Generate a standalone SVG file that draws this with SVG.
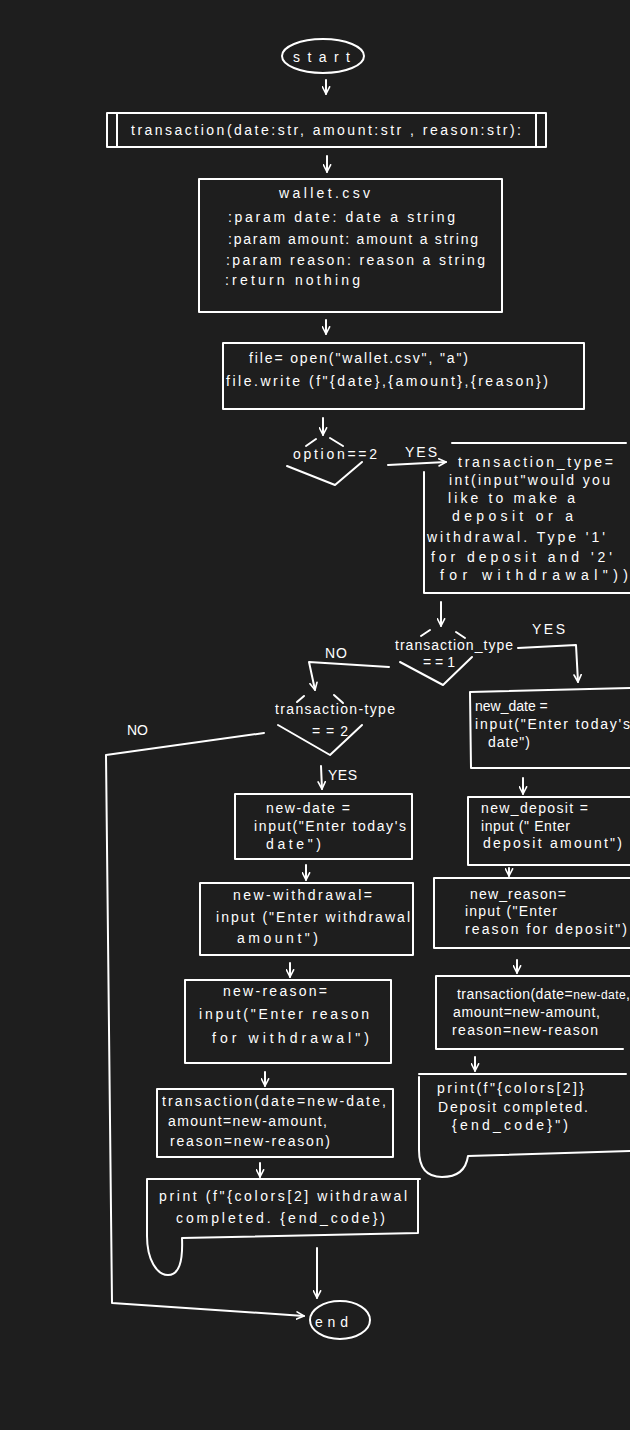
<svg xmlns="http://www.w3.org/2000/svg" width="630" height="1430" viewBox="0 0 630 1430">
<defs>
<marker id="ah" viewBox="0 0 10 10" refX="9" refY="5" markerWidth="9" markerHeight="9" markerUnits="userSpaceOnUse" orient="auto">
<path d="M1,1 L9,5 L1,9" fill="none" stroke="#ffffff" stroke-width="1.8" stroke-linecap="round" stroke-linejoin="round"/>
</marker>
<style>
.s{fill:none;stroke:#ffffff;stroke-width:2;stroke-linecap:round;stroke-linejoin:round}
.c{fill:none;stroke:#ffffff;stroke-width:2;stroke-linecap:round;stroke-linejoin:round;marker-end:url(#ah)}
text{fill:#ffffff;font-family:"Liberation Sans","DejaVu Sans",sans-serif;font-size:14px}
.sm{font-size:12px}
</style>
</defs>
<rect width="630" height="1430" fill="#1e1e1e"/>

<g id="connectors">
<path class="c" d="M326,80 L326,94"/>
<path class="c" d="M327,156 L327,172"/>
<path class="c" d="M326,320 L326,334"/>
<path class="c" d="M323,418 L323,435"/>
<path class="c" d="M388,465 L446,462"/>
<path class="c" d="M441,602 L441,626"/>
<path class="c" d="M518,648 L576,645 L578,682"/>
<path class="c" d="M389,667 L309,662 L315,690"/>
<path class="c" d="M264,733 L106,755 L112,1303 L304,1316"/>
<path class="c" d="M321,766 L322,789"/>
<path class="c" d="M523,778 L523,794"/>
<path class="c" d="M509,868 L509,876"/>
<path class="c" d="M517,960 L517,973"/>
<path class="c" d="M475,1057 L475,1071"/>
<path class="c" d="M306,865 L306,880"/>
<path class="c" d="M290,963 L290,977"/>
<path class="c" d="M265,1072 L265,1086"/>
<path class="c" d="M260,1163 L260,1177"/>
<path class="c" d="M317,1248 L317,1298"/>
<text x="405" y="457" textLength="32">YES</text>
<text x="532" y="634" textLength="33">YES</text>
<text x="325" y="658" textLength="22">NO</text>
<text x="127" y="735" textLength="21">NO</text>
<text x="328" y="780" textLength="29">YES</text>
</g>

<g id="start">
<ellipse class="s" cx="323" cy="56" rx="41" ry="17"/>
<text x="293" y="62" textLength="57">start</text>
</g>

<g id="transaction-def">
<rect class="s" x="107" y="113" width="439" height="34"/>
<path class="s" d="M117,113 L117,147 M536,113 L536,147"/>
<text x="131" y="135" textLength="390">transaction(date:str, amount:str , reason:str):</text>
</g>

<g id="wallet-doc">
<rect class="s" x="199" y="179" width="303" height="133"/>
<text x="279" y="198" textLength="91">wallet.csv</text>
<text x="228" y="222" textLength="227">:param date: date a string</text>
<text x="228" y="244" textLength="250">:param amount: amount a string</text>
<text x="226" y="265" textLength="259">:param reason: reason a string</text>
<text x="225" y="285" textLength="135">:return nothing</text>
</g>

<g id="file-write">
<rect class="s" x="223" y="343" width="361" height="66"/>
<text x="249" y="363" textLength="219">file= open("wallet.csv", "a")</text>
<text x="226" y="386" textLength="322">file.write (f"{date},{amount},{reason})</text>
</g>

<g id="option-decision">
<path class="s" d="M306,446 L316,439 M330,438 L343,446 M287,466 L335,485 L362,462"/>
<text x="293" y="459" textLength="84">option==2</text>
</g>

<g id="transaction-type-input">
<path class="s" d="M452,443 L626,443 M424,472 L424,593 L630,593"/>
<text x="458" y="467" textLength="155">transaction_type=</text>
<text x="449" y="485" textLength="161">int(input"would you</text>
<text x="448" y="503" textLength="127">like to make a</text>
<text x="452" y="521" textLength="121">deposit  or a</text>
<text x="427" y="542" textLength="178">withdrawal.  Type '1'</text>
<text x="431" y="562" textLength="181">for deposit and '2'</text>
<text x="440" y="580" textLength="188">for withdrawal"))</text>
</g>

<g id="type1-decision">
<path class="s" d="M421,636 L430,630 M456,632 L465,638 M400,662 L443,685 L472,657"/>
<text x="395" y="650" textLength="118">transaction_type</text>
<text x="423" y="667" textLength="32">==1</text>
</g>

<g id="type2-decision">
<path class="s" d="M297,702 L304,696 M334,695 L343,703 M278,725 L330,755 L362,725"/>
<text x="275" y="714" textLength="120">transaction-type</text>
<text x="312" y="736" textLength="36">==2</text>
</g>

<g id="deposit-date">
<path class="s" d="M470,692 L630,688 M470,692 L471,768 L630,768"/>
<text x="475" y="711">new_date =</text>
<text x="475" y="729" textLength="155">input("Enter today's</text>
<text x="488" y="747" textLength="42">date")</text>
</g>

<g id="deposit-amount">
<rect class="s" x="468" y="797" width="170" height="68"/>
<text x="481" y="813" textLength="107">new_deposit =</text>
<text x="481" y="831" textLength="89">input (" Enter</text>
<text x="483" y="848" textLength="139">deposit amount")</text>
</g>

<g id="deposit-reason">
<rect class="s" x="434" y="878" width="205" height="70"/>
<text x="470" y="899" textLength="96">new_reason=</text>
<text x="465" y="916" textLength="92">input ("Enter</text>
<text x="465" y="934" textLength="162">reason for deposit")</text>
</g>

<g id="deposit-transaction">
<path class="s" d="M436,976 L630,976 M436,976 L436,1049 L623,1049"/>
<text x="457" y="999" textLength="173">transaction(date=<tspan class="sm">new-date</tspan>,</text>
<text x="453" y="1017" textLength="147">amount=new-amount,</text>
<text x="452" y="1035" textLength="146">reason=new-reason</text>
</g>

<g id="deposit-print">
<path class="s" d="M419,1074 L626,1074 M419,1077 L419,1150 C419,1170 428,1177 442,1177 C458,1177 466,1170 468,1156 L630,1151"/>
<text x="437" y="1093" textLength="147">print(f"{colors[2]}</text>
<text x="438" y="1112" textLength="150">Deposit completed.</text>
<text x="452" y="1130" textLength="116">{end_code}")</text>
</g>

<g id="withdraw-date">
<rect class="s" x="235" y="794" width="177" height="65"/>
<text x="266" y="813" textLength="84">new-date =</text>
<text x="254" y="831" textLength="152">input("Enter today's</text>
<text x="266" y="849" textLength="55">date")</text>
</g>

<g id="withdraw-amount">
<rect class="s" x="200" y="883" width="213" height="72"/>
<text x="233" y="900" textLength="139">new-withdrawal=</text>
<text x="216" y="922" textLength="194">input ("Enter withdrawal</text>
<text x="237" y="943" textLength="81">amount")</text>
</g>

<g id="withdraw-reason">
<rect class="s" x="185" y="980" width="206" height="83"/>
<text x="223" y="996" textLength="104">new-reason=</text>
<text x="199" y="1019" textLength="170">input("Enter reason</text>
<text x="212" y="1043" textLength="157">for withdrawal")</text>
</g>

<g id="withdraw-transaction">
<rect class="s" x="157" y="1089" width="236" height="68"/>
<text x="162" y="1106" textLength="224">transaction(date=new-date,</text>
<text x="168" y="1126" textLength="159">amount=new-amount,</text>
<text x="170" y="1146" textLength="160">reason=new-reason)</text>
</g>

<g id="withdraw-print">
<path class="s" d="M147,1179 L420,1179 M418,1179 L418,1233 M147,1179 L147,1236 C147,1260 157,1275 168,1275 C179,1275 183,1262 182,1238 L418,1233"/>
<text x="159" y="1201" textLength="248">print (f"{colors[2] withdrawal</text>
<text x="176" y="1223" textLength="209">completed. {end_code})</text>
</g>

<g id="end">
<ellipse class="s" cx="340" cy="1320" rx="30" ry="19"/>
<text x="315" y="1327" textLength="33">end</text>
</g>
</svg>
